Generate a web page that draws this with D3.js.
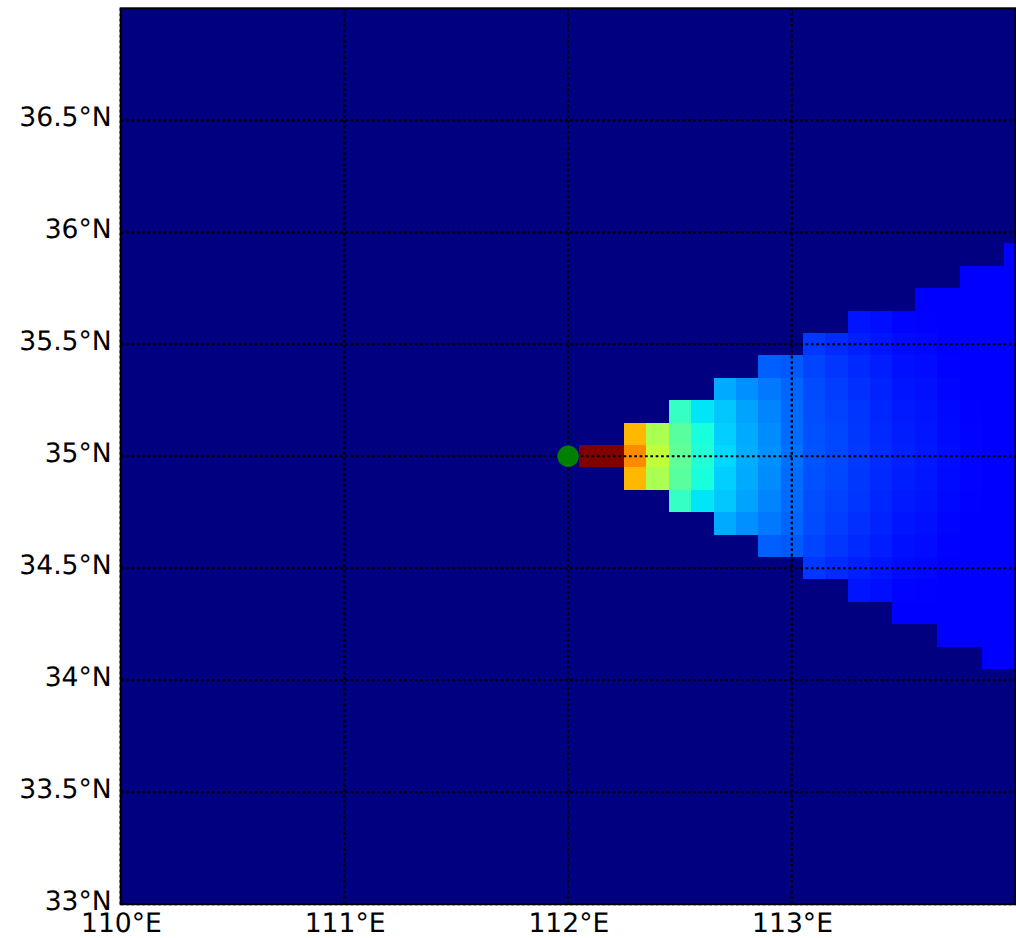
<!DOCTYPE html>
<html>
<head>
<meta charset="utf-8">
<script src="https://cdn.jsdelivr.net/npm/d3@7"></script>
<style>
  html, body { margin: 0; padding: 0; background: #fff; }
  svg { display: block; }
  text { font-family: "DejaVu Sans", sans-serif; text-rendering: geometricPrecision; }
</style>
</head>
<body>
<svg id="chart" width="1016" height="938"></svg>
<script>
const lonTicks = [110, 111, 112, 113]
const latTicks = [33, 33.5, 34, 34.5, 35, 35.5, 36, 36.5]
const source = { lon: 112, lat: 35 }

// grid column centres, the northernmost cell of each, and values north to south
const lons = [112.1, 112.2, 112.3, 112.4, 112.5, 112.6, 112.7, 112.8, 112.9, 113.0,
  113.1, 113.2, 113.3, 113.4, 113.5, 113.6, 113.7, 113.8, 113.9, 114.0]
const topLats = [35.0, 35.0, 35.1, 35.1, 35.2, 35.2, 35.3, 35.3, 35.4, 35.4,
  35.5, 35.5, 35.6, 35.6, 35.6, 35.7, 35.7, 35.8, 35.8, 35.9]
const columns = [
  [1],
  [1],
  [.715, .764, .715],
  [.557, .583, .557],
  [.415, .459, .467, .459, .415],
  [.350, .380, .390, .380, .350],
  [.292, .321, .328, .337, .328, .321, .292],
  [.266, .286, .292, .295, .292, .286, .266],
  [.219, .243, .255, .262, .266, .262, .255, .243, .219],
  [.211, .223, .228, .231, .235, .231, .228, .223, .211],
  [.180, .192, .198, .202, .205, .207, .205, .202, .198, .192, .180],
  [.166, .178, .185, .190, .194, .196, .194, .190, .185, .178, .166],
  [.145, .155, .165, .171, .176, .179, .181, .179, .176, .171, .165, .155, .145],
  [.138, .146, .153, .158, .162, .165, .167, .165, .162, .158, .153, .146, .138],
  [.128, .135, .141, .146, .150, .153, .156, .153, .150, .146, .141, .135, .128, .124],
  [.122, .126, .131, .136, .141, .144, .147, .148, .147, .144, .141, .136, .131, .126, .122],
  [.118, .121, .124, .127, .130, .133, .135, .137, .135, .133, .130, .127, .124, .121, .118, .115],
  [.112, .115, .118, .120, .122, .124, .126, .128, .129, .128, .126, .124, .122, .120, .118, .115, .112],
  [.110, .112, .114, .116, .118, .120, .122, .123, .124, .124, .123, .122, .120, .118, .116, .114, .112, .110],
  [.108, .110, .112, .113, .115, .116, .117, .118, .119, .120, .119, .118, .117, .116, .115, .113, .112, .110, .108]
]

const svg = d3.select("#chart")

const x = d3.scaleLinear().domain([110, 114]).range([120.7, 1015.5])
const y = d3.scaleLinear().domain([33, 37]).range([904.2, 8.3])

// matplotlib jet
const jet = d3.scaleLinear()
  .domain([0, .11, .125, .34, .35, .375, .64, .65, .66, .89, .91, 1])
  .range(["#000080", "#0000ff", "#0000ff", "#00dbff", "#00e5f7", "#14ffe2", "#eeff0c", "#f7f500", "#ffec00", "#ff1300", "#e80000", "#800000"])
  .clamp(true)

svg.append("defs").append("clipPath").attr("id", "plot")
  .append("rect")
  .attr("x", x(110)).attr("y", y(37))
  .attr("width", x(114) - x(110)).attr("height", y(33) - y(37))

const plot = svg.append("g").attr("clip-path", "url(#plot)")

plot.append("rect")
  .attr("x", x(110)).attr("y", y(37))
  .attr("width", x(114) - x(110)).attr("height", y(33) - y(37))
  .attr("fill", jet(0))

const cells = columns.flatMap((col, i) => col.map((value, j) => ({
  lon: lons[i],
  lat: topLats[i] - j * 0.1,
  value
})))

plot.selectAll("rect.cell")
  .data(cells)
  .join("rect")
  .attr("class", "cell")
  .attr("x", d => x(d.lon - 0.05))
  .attr("y", d => y(d.lat + 0.05))
  .attr("width", x(110.1) - x(110))
  .attr("height", y(33) - y(33.1))
  .attr("shape-rendering", "crispEdges")
  .attr("fill", d => jet(d.value))

const xAxis = g => g
  .attr("transform", `translate(0,${y(33)})`)
  .call(d3.axisBottom(x)
    .tickValues(lonTicks)
    .tickFormat(d => `${d}°E`)
    .tickSize(y(37) - y(33))
    .tickPadding(0)
    .offset(0))
  .call(g => g.select(".domain").remove())

const yAxis = g => g
  .attr("transform", `translate(${x(110)},0)`)
  .call(d3.axisLeft(y)
    .tickValues(latTicks)
    .tickFormat(d => `${d}°N`)
    .tickSize(x(110) - x(114))
    .tickPadding(0)
    .offset(0))
  .call(g => g.select(".domain").remove())

const gx = svg.append("g").call(xAxis)
const gy = svg.append("g").call(yAxis)

svg.selectAll(".tick line")
  .attr("stroke", "#000")
  .attr("stroke-width", 2.2)
  .attr("stroke-dasharray", "2.7,2.65")

svg.selectAll(".tick text")
  .attr("fill", "#000")
  .attr("font-size", 26.6)

// label placement, snug against the frame
gx.selectAll(".tick text").attr("x", 0.7).attr("y", 0).attr("dy", "28.3px")
gy.selectAll(".tick text").attr("x", -9).attr("dy", "6.2px")

svg.append("circle")
  .attr("cx", x(source.lon))
  .attr("cy", y(source.lat))
  .attr("r", 10.7)
  .attr("fill", "#008000")

svg.append("rect")
  .attr("x", x(110)).attr("y", y(37))
  .attr("width", x(114) - x(110)).attr("height", y(33) - y(37))
  .attr("fill", "none")
  .attr("stroke", "#000")
  .attr("stroke-width", 2)
</script>
</body>
</html>
